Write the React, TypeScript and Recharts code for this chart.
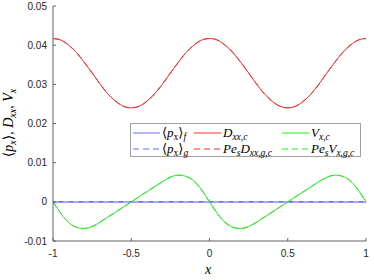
import React from 'react';
import { LineChart, Line, XAxis, YAxis } from 'recharts';

// x positions of the sampled curves
const xValues = [
  -1, -0.95, -0.9, -0.85, -0.8, -0.75, -0.7, -0.65, -0.6, -0.55, -0.5,
  -0.45, -0.4, -0.35, -0.3, -0.25, -0.2, -0.15, -0.1, -0.05, 0,
  0.05, 0.1, 0.15, 0.2, 0.25, 0.3, 0.35, 0.4, 0.45, 0.5,
  0.55, 0.6, 0.65, 0.7, 0.75, 0.8, 0.85, 0.9, 0.95, 1,
];

// D_xx,c
const dxxC = [
  0.0417, 0.0413, 0.0400, 0.0381, 0.0356, 0.0329, 0.0301, 0.0276, 0.0257, 0.0244, 0.0240,
  0.0244, 0.0257, 0.0276, 0.0301, 0.0329, 0.0356, 0.0381, 0.0400, 0.0413, 0.0417,
  0.0413, 0.0400, 0.0381, 0.0356, 0.0329, 0.0301, 0.0276, 0.0257, 0.0244, 0.0240,
  0.0244, 0.0257, 0.0276, 0.0301, 0.0329, 0.0356, 0.0381, 0.0400, 0.0413, 0.0417,
];

// V_x,c
const vxC = [
  0, -0.0030, -0.0053, -0.0065, -0.0068, -0.0063, -0.0052, -0.0039, -0.0026, -0.0013, 0,
  0.0013, 0.0026, 0.0039, 0.0052, 0.0063, 0.0068, 0.0065, 0.0053, 0.0030, 0,
  -0.0030, -0.0053, -0.0065, -0.0068, -0.0063, -0.0052, -0.0039, -0.0026, -0.0013, 0,
  0.0013, 0.0026, 0.0039, 0.0052, 0.0063, 0.0068, 0.0065, 0.0053, 0.0030, 0,
];

// <p_x>_f and <p_x>_g (flat at zero)
const pxX = [-1, 1];
const pxF = [0, 0];
const pxG = [0, 0];

const xTicks = [-1, -0.5, 0, 0.5, 1];
const yTicks = [-0.01, 0, 0.01, 0.02, 0.03, 0.04, 0.05];

const BLUE = '#6a6aff';
const RED = '#ff2a2a';
const GREEN = '#22f022';
const AXIS = '#606060';
const MATH = '"Liberation Serif", "DejaVu Serif", serif';

const data = xValues.map((x, i) => ({ x, dxx: dxxC[i], vx: vxC[i] }));
const pfData = pxX.map((x, i) => ({ x, v: pxF[i] }));
const pgData = pxX.map((x, i) => ({ x, v: pxG[i] }));

const sub = (t: string, size = 9.5) => <sub style={{ fontSize: size, verticalAlign: -3 }}>{t}</sub>;

const legendItems = [
  { color: BLUE, dash: false, col: 0, row: 0, label: <>⟨<i>p</i>{sub('x')}⟩<i>{sub('f')}</i></> },
  { color: BLUE, dash: true, col: 0, row: 1, label: <>⟨<i>p</i>{sub('x')}⟩<i>{sub('g')}</i></> },
  { color: RED, dash: false, col: 1, row: 0, label: <><i>D</i><i>{sub('xx,c')}</i></> },
  { color: RED, dash: true, col: 1, row: 1, label: <><i>Pe</i><i>{sub('s')}</i><i>D</i><i>{sub('xx,g,c')}</i></> },
  { color: GREEN, dash: false, col: 2, row: 0, label: <><i>V</i><i>{sub('x,c')}</i></> },
  { color: GREEN, dash: true, col: 2, row: 1, label: <><i>Pe</i><i>{sub('s')}</i><i>V</i><i>{sub('x,g,c')}</i></> },
];
const colX = [2, 63, 151];

const LegendBox = () => (
  <div style={{ position: 'absolute', left: 130, top: 123, width: 229, height: 32, border: '1px solid #a0a0a0', background: '#fff' }}>
    {legendItems.map((it, i) => (
      <div key={i} style={{ position: 'absolute', left: colX[it.col], top: it.row === 0 ? 1 : 17, height: 16, display: 'flex', alignItems: 'center', whiteSpace: 'nowrap' }}>
        <svg width={27} height={4} style={{ marginRight: 2 }}>
          <line x1={0} y1={2} x2={27} y2={2} stroke={it.color} strokeWidth={1} strokeDasharray={it.dash ? '6 4' : undefined} />
        </svg>
        <span style={{ fontFamily: MATH, fontSize: 13, color: '#000' }}>{it.label}</span>
      </div>
    ))}
  </div>
);

export default function App() {
  return (
    <div style={{ position: 'absolute', left: 0, top: 0, width: 374, height: 280, background: '#fff' }}>
      <LineChart width={374} height={280} data={data} margin={{ top: 6, right: 8, left: 0, bottom: 0 }}>
        <XAxis
          dataKey="x"
          type="number"
          domain={[-1, 1]}
          ticks={xTicks}
          height={39}
          stroke={AXIS}
          tickSize={-3}
          tickMargin={12}
          allowDuplicatedCategory={false}
          tick={{ fill: '#262626', fontSize: 10, fontFamily: 'Liberation Sans, Arial, sans-serif' }}
        />
        <YAxis
          type="number"
          domain={[-0.01, 0.05]}
          ticks={yTicks}
          width={53}
          stroke={AXIS}
          tickSize={-3}
          tickMargin={9}
          tick={{ fill: '#262626', fontSize: 10, fontFamily: 'Liberation Sans, Arial, sans-serif' }}
        />
        <Line data={pfData} dataKey="v" stroke={BLUE} strokeWidth={1.6} dot={false} isAnimationActive={false} />
        <Line data={pgData} dataKey="v" stroke="#a8a8ff" strokeWidth={1.6} strokeDasharray="6 4" dot={false} isAnimationActive={false} />
        <Line dataKey="dxx" type="natural" stroke={RED} strokeWidth={1} dot={false} isAnimationActive={false} />
        <Line dataKey="dxx" type="natural" stroke={RED} strokeWidth={1} strokeDasharray="6 4" dot={false} isAnimationActive={false} />
        <Line dataKey="vx" type="natural" stroke={GREEN} strokeWidth={1} dot={false} isAnimationActive={false} />
        <Line dataKey="vx" type="natural" stroke={GREEN} strokeWidth={1} strokeDasharray="6 4" dot={false} isAnimationActive={false} />
      </LineChart>
      <LegendBox />
      <div style={{ position: 'absolute', left: 205, top: 262, fontFamily: MATH, fontSize: 14, fontStyle: 'italic' }}>x</div>
      <div
        style={{
          position: 'absolute', left: 9, top: 123, transform: 'translate(-50%, -50%) rotate(-90deg)',
          fontFamily: MATH, fontSize: 14, whiteSpace: 'nowrap', color: '#000',
        }}
      >
        ⟨<i>p</i><i>{sub('x', 10)}</i>⟩, <i>D</i><i>{sub('xx', 10)}</i>, <i>V</i><i>{sub('x', 10)}</i>
      </div>
    </div>
  );
}
